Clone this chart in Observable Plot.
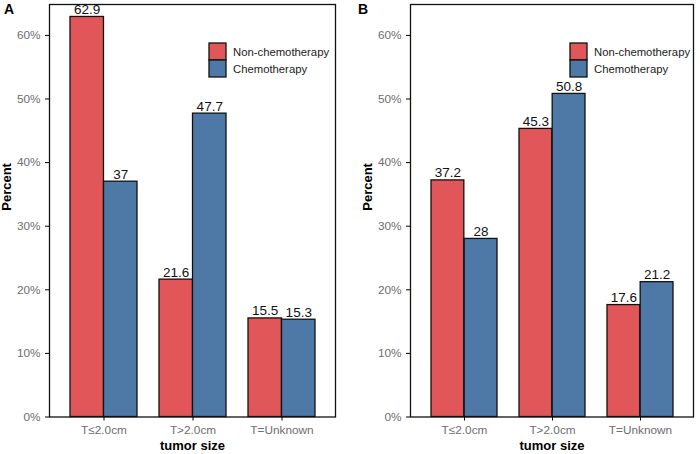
<!DOCTYPE html>
<html>
<head>
<meta charset="utf-8">
<script src="https://cdn.jsdelivr.net/npm/d3@7"></script>
<script src="https://cdn.jsdelivr.net/npm/@observablehq/plot@0.6"></script>
<style>
  html, body { margin: 0; padding: 0; background: #fff; }
  #wrap { position: relative; width: 700px; height: 454px; font-family: "Liberation Sans", Arial, sans-serif; }
  .panel { position: absolute; top: 0; }
  .tag { position: absolute; top: 1px; font: bold 14px "Liberation Sans", Arial, sans-serif; color: #000; }
  .leg { position: absolute; top: 43px; }
  g[aria-label$="tick label"], g[aria-label$="tick label"] text { fill: #6e6e6e; }
  .lg-swatches-wrap { flex-direction: column !important; align-items: flex-start !important; min-height: 0 !important; margin: 0 !important; }
  .lg-swatch { margin: 0 !important; height: 17px; font: 11.3px "Liberation Sans", Arial, sans-serif; color: #222; }
  .lg-swatch svg { margin-right: 7px !important; overflow: visible; }
  .lg-swatch svg rect { stroke: #111; stroke-width: 1.3px; }
</style>
</head>
<body>
<div id="wrap"></div>
<script>
// Tumor size groups and treatment series
const categories = ["T≤2.0cm", "T>2.0cm", "T=Unknown"];
const series = ["Non-chemotherapy", "Chemotherapy"];
const colors = ["#E15759", "#4E79A7"];

// Percent of patients per group, panel A
const panelA_non = [62.9, 21.6, 15.5];
const panelA_chemo = [37, 47.7, 15.3];
// Percent of patients per group, panel B
const panelB_non = [37.2, 45.3, 17.6];
const panelB_chemo = [28, 50.8, 21.2];

const yTicks = [0, 10, 20, 30, 40, 50, 60];

function rows(non, chemo) {
  const out = [];
  categories.forEach((c, i) => {
    out.push({category: c, series: series[0], value: non[i]});
    out.push({category: c, series: series[1], value: chemo[i]});
  });
  return out;
}

function panel({data, marginLeft, marginRight}) {
  const width = 350, height = 454, marginTop = 4, marginBottom = 37.5;
  const xOpts = {type: "band", domain: categories, paddingInner: 0.25, paddingOuter: 0.225,
                 range: [marginLeft, width - marginRight]};
  const bw = Plot.scale({x: xOpts}).bandwidth;
  const half = bw / 2;
  const non = data.filter(d => d.series === series[0]);
  const chemo = data.filter(d => d.series === series[1]);
  const title = {fill: "#000", fontWeight: "bold", fontSize: 13, lineAnchor: "middle"};
  return Plot.plot({
    width, height, marginLeft, marginRight, marginTop, marginBottom,
    style: {fontFamily: "'Liberation Sans', Arial, sans-serif", fontSize: "11.8px", background: "#fff", overflow: "visible"},
    x: {domain: categories, paddingInner: 0.25, paddingOuter: 0.225, label: null},
    y: {domain: [0, 64.86], label: null},
    color: {domain: series, range: colors},
    marks: [
      Plot.barY(non, {x: "category", y: "value", fill: "series", stroke: "#111", strokeWidth: 1.3, insetRight: half}),
      Plot.barY(chemo, {x: "category", y: "value", fill: "series", stroke: "#111", strokeWidth: 1.3, insetLeft: half}),
      Plot.text(non, {x: "category", y: "value", text: d => String(d.value), dx: -half / 2, dy: -3,
                      lineAnchor: "bottom", fontSize: 13.5, fill: "#111"}),
      Plot.text(chemo, {x: "category", y: "value", text: d => String(d.value), dx: half / 2, dy: -3,
                        lineAnchor: "bottom", fontSize: 13.5, fill: "#111"}),
      Plot.axisY({ticks: yTicks, tickFormat: d => d + "%", tickSize: 4, tickPadding: 5, label: null}),
      Plot.axisX({tickSize: 4, tickPadding: 5, label: null}),
      // axis titles
      Plot.text(["Percent"], {frameAnchor: "left", rotate: -90, dx: -42.5, ...title}),
      Plot.text(["tumor size"], {frameAnchor: "bottom", dy: 29, ...title}),
      Plot.frame({stroke: "#111", strokeWidth: 1.3})
    ]
  });
}

function legend() {
  return Plot.legend({color: {domain: series, range: colors}, legend: "swatches",
                      swatchSize: 17, className: "lg"});
}

const wrap = document.getElementById("wrap");

const pA = panel({data: rows(panelA_non, panelA_chemo), marginLeft: 49, marginRight: 15});
pA.classList.add("panel");
pA.style.left = "0px";
wrap.appendChild(pA);

const pB = panel({data: rows(panelB_non, panelB_chemo), marginLeft: 60, marginRight: 7});
pB.classList.add("panel");
pB.style.left = "350px";
wrap.appendChild(pB);

const lA = document.createElement("div");
lA.className = "leg"; lA.style.left = "209px";
lA.appendChild(legend());
wrap.appendChild(lA);

const lB = document.createElement("div");
lB.className = "leg"; lB.style.left = "570px";
lB.appendChild(legend());
wrap.appendChild(lB);

for (const [t, x] of [["A", 4], ["B", 358]]) {
  const s = document.createElement("div");
  s.className = "tag"; s.textContent = t; s.style.left = x + "px";
  wrap.appendChild(s);
}
</script>
</body>
</html>
